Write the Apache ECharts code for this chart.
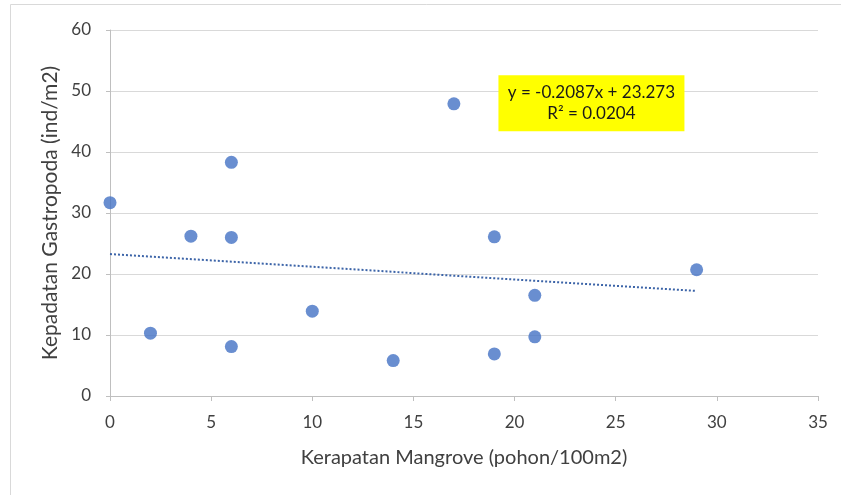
<!DOCTYPE html>
<html><head><meta charset="utf-8">
<script src="https://cdn.jsdelivr.net/npm/echarts@6/dist/echarts.min.js"></script>
<style>html,body{margin:0;padding:0;background:#fff}#c{width:841px;height:495px}</style>
</head><body><div id="c"></div>
<script>
const xValues = [0, 2, 4, 6, 6, 6, 10, 14, 17, 19, 19, 21, 21, 29];
const yValues = [31.7, 10.3, 26.2, 38.3, 26.0, 8.1, 13.9, 5.8, 47.9, 26.1, 6.9, 16.5, 9.7, 20.7];
const slope = -0.2087, intercept = 23.273;
const trendX = [0, 29];
const eqText = 'y = -0.2087x + 23.273\nR² = 0.0204';
const xTitle = 'Kerapatan Mangrove (pohon/100m2)';
const yTitle = 'Kepadatan Gastropoda (ind/m2)';

const chart = echarts.init(document.getElementById('c'));
const pts = xValues.map((x, i) => [x, yValues[i]]);
const trend = trendX.map(x => [x, slope * x + intercept]);
const font = 'Lato, "Open Sans", sans-serif';
chart.setOption({
  animation: false,
  graphic: [{
    type: 'rect', shape: {x: 10.5, y: 4.5, width: 840, height: 500},
    style: {fill: 'none', stroke: '#d9d9d9', lineWidth: 1}, silent: true
  }],
  grid: {left: 110, right: 23, top: 30, bottom: 99},
  xAxis: {
    type: 'value', min: 0, max: 35, interval: 5,
    name: xTitle, nameLocation: 'middle', nameGap: 52,
    nameTextStyle: {fontFamily: font, fontSize: 20, color: '#404040'},
    axisLine: {show: true, lineStyle: {color: '#bfbfbf'}},
    axisTick: {show: true, length: 5, lineStyle: {color: '#bfbfbf'}},
    axisLabel: {fontFamily: font, fontSize: 17, color: '#404040', margin: 18},
    splitLine: {show: false}
  },
  yAxis: {
    type: 'value', min: 0, max: 60, interval: 10,
    name: yTitle, nameLocation: 'middle', nameGap: 45,
    nameTextStyle: {fontFamily: font, fontSize: 21, color: '#404040'},
    axisLine: {show: true, lineStyle: {color: '#bfbfbf'}},
    axisTick: {show: true, length: 4, lineStyle: {color: '#bfbfbf'}},
    axisLabel: {fontFamily: font, fontSize: 17, color: '#404040', margin: 19},
    splitLine: {show: true, lineStyle: {color: '#d9d9d9'}}
  },
  series: [{
    type: 'scatter', data: pts, symbolSize: 13,
    itemStyle: {color: '#4472C4'}, z: 3
  }, {
    type: 'line', data: trend, symbol: 'none',
    lineStyle: {color: '#3C64A8', width: 2, type: [2, 2]}, z: 2,
    markPoint: {
      symbol: 'rect', symbolSize: 0,
      data: [{coord: [23.8, 48.0], value: 0,
        label: {show: true, formatter: eqText, fontFamily: font, fontSize: 17, color: '#1a1a1a',
          backgroundColor: '#FFFF00', padding: [7, 10, 7, 10], lineHeight: 21, align: 'center',
          width: 166, verticalAlign: 'middle'}}]
    }
  }]
});
</script></body></html>
